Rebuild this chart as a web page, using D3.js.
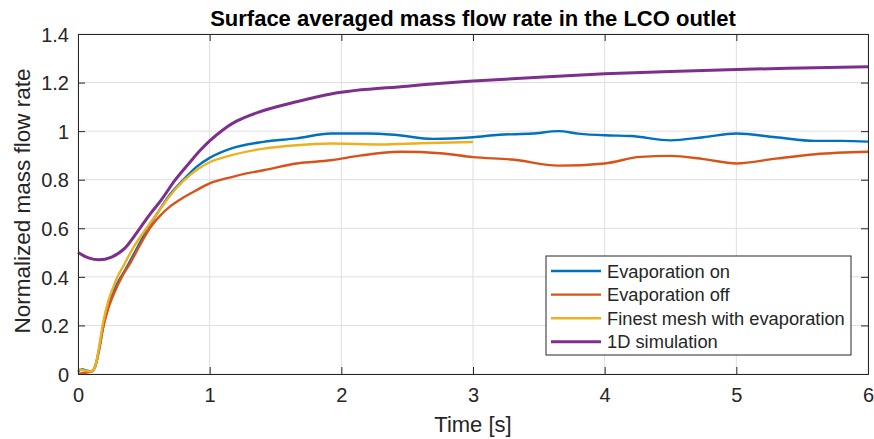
<!DOCTYPE html>
<html>
<head>
<meta charset="utf-8">
<script src="https://cdn.jsdelivr.net/npm/d3@7"></script>
<style>
  body { margin: 0; background: #fff; }
  text { font-family: "Liberation Sans", Arial, sans-serif; fill: #262626; }
</style>
</head>
<body>
<script>
// values
var xTicks = [0, 1, 2, 3, 4, 5, 6];
var yTicks = [0, 0.2, 0.4, 0.6, 0.8, 1, 1.2, 1.4];
var seriesNames = ["Evaporation on", "Evaporation off", "Finest mesh with evaporation", "1D simulation"];
var seriesColors = ["#0072BD", "#D95319", "#EDB120", "#7E2F8E"];

var tOn = [0, 0.03, 0.06, 0.1, 0.13, 0.16, 0.19, 0.23, 0.27, 0.31, 0.36, 0.43, 0.53, 0.6, 0.7, 0.8, 0.9, 1.0, 1.16, 1.41, 1.66, 1.92, 2.2, 2.4, 2.7, 3.0, 3.2, 3.45, 3.65, 3.8, 4.0, 4.2, 4.5, 4.75, 5.0, 5.3, 5.6, 5.8, 6.0];
var vOn = [0.01, 0.02, 0.015, 0.01, 0.03, 0.10, 0.19, 0.28, 0.34, 0.385, 0.43, 0.50, 0.60, 0.66, 0.74, 0.80, 0.853, 0.89, 0.928, 0.956, 0.97, 0.99, 0.99, 0.985, 0.968, 0.975, 0.985, 0.99, 1.0, 0.99, 0.983, 0.98, 0.962, 0.975, 0.99, 0.975, 0.96, 0.96, 0.957];

var tOff = [0, 0.05, 0.1, 0.13, 0.16, 0.19, 0.23, 0.28, 0.333, 0.4, 0.47, 0.545, 0.62, 0.7, 0.78, 0.9, 1.0, 1.16, 1.28, 1.41, 1.66, 1.92, 2.15, 2.45, 2.75, 3.0, 3.3, 3.65, 4.0, 4.27, 4.5, 4.75, 5.0, 5.3, 5.6, 6.0];
var vOff = [0.0, 0.005, 0.01, 0.03, 0.10, 0.19, 0.27, 0.34, 0.40, 0.46, 0.53, 0.60, 0.65, 0.69, 0.72, 0.757, 0.785, 0.81, 0.826, 0.839, 0.867, 0.88, 0.90, 0.915, 0.909, 0.893, 0.883, 0.858, 0.867, 0.894, 0.898, 0.885, 0.867, 0.887, 0.905, 0.915];

var tFine = [0, 0.05, 0.1, 0.13, 0.16, 0.19, 0.23, 0.27, 0.3, 0.35, 0.42, 0.52, 0.6, 0.7, 0.8, 0.9, 1.0, 1.16, 1.41, 1.66, 1.92, 2.3, 2.6, 3.0];
var vFine = [0.02, 0.015, 0.01, 0.03, 0.11, 0.21, 0.30, 0.36, 0.40, 0.45, 0.52, 0.60, 0.66, 0.735, 0.795, 0.84, 0.872, 0.90, 0.928, 0.942, 0.949, 0.945, 0.95, 0.955];

var t1D = [0, 0.08, 0.16, 0.25, 0.35, 0.47, 0.55, 0.63, 0.737, 0.85, 0.93, 1.0, 1.1, 1.2, 1.3, 1.41, 1.66, 1.92, 2.5, 3.0, 3.5, 4.0, 4.5, 5.0, 5.5, 6.0];
var v1D = [0.5, 0.478, 0.47, 0.48, 0.515, 0.60, 0.66, 0.715, 0.798, 0.872, 0.922, 0.96, 1.005, 1.04, 1.064, 1.085, 1.121, 1.153, 1.185, 1.206, 1.222, 1.236, 1.246, 1.254, 1.26, 1.265];

var svgWidth = 874, svgHeight = 439;
var margin = { top: 34, right: 6, bottom: 65, left: 78 };
var width = 868 - margin.left;
var height = 374 - margin.top;

var svg = d3.select("body").append("svg")
  .attr("width", svgWidth)
  .attr("height", svgHeight);

var chartGroup = svg.append("g")
  .attr("transform", `translate(${margin.left}, ${margin.top})`);

var x = d3.scaleLinear().domain([0, 6]).range([0, width]);
var y = d3.scaleLinear().domain([0, 1.4]).range([height, 0]);

// grid
chartGroup.append("g").selectAll("line").data(xTicks).enter().append("line")
  .attr("x1", d => x(d)).attr("x2", d => x(d))
  .attr("y1", 0).attr("y2", height)
  .attr("stroke", "#dfdfdf");
chartGroup.append("g").selectAll("line").data(yTicks).enter().append("line")
  .attr("y1", d => y(d)).attr("y2", d => y(d))
  .attr("x1", 0).attr("x2", width)
  .attr("stroke", "#dfdfdf");

// series
var series = [
  { t: tOn, v: vOn },
  { t: tOff, v: vOff },
  { t: tFine, v: vFine },
  { t: t1D, v: v1D }
];
var line = d3.line()
  .x(d => x(d[0]))
  .y(d => y(d[1]))
  .curve(d3.curveMonotoneX);

series.forEach(function(s, i) {
  var pts = s.t.map((t, j) => [t, s.v[j]]);
  chartGroup.append("path")
    .datum(pts)
    .attr("d", line)
    .attr("fill", "none")
    .attr("stroke", seriesColors[i])
    .attr("stroke-width", i == 3 ? 3 : 2.4)
    .attr("stroke-linejoin", "round");
});

// axes (box with inward ticks)
var bottomAxis = d3.axisBottom(x).tickValues(xTicks).tickSize(-7).tickPadding(14).tickFormat(d3.format("d"));
var leftAxis = d3.axisLeft(y).tickValues(yTicks).tickSize(-7).tickPadding(9).tickFormat(d => d3.format("")(d));
var topAxis = d3.axisTop(x).tickValues(xTicks).tickSize(-7).tickFormat("");
var rightAxis = d3.axisRight(y).tickValues(yTicks).tickSize(-7).tickFormat("");

var xAxis = chartGroup.append("g").attr("transform", `translate(0, ${height})`).call(bottomAxis);
var yAxis = chartGroup.append("g").call(leftAxis);
chartGroup.append("g").call(topAxis);
chartGroup.append("g").attr("transform", `translate(${width}, 0)`).call(rightAxis);

chartGroup.selectAll(".domain").attr("stroke", "#262626").attr("stroke-width", 1);
chartGroup.selectAll(".tick line").attr("stroke", "#262626");
chartGroup.selectAll(".tick text").style("font-size", "20px").attr("fill", "#262626")
  .style("font-family", "'Liberation Sans', Arial, sans-serif");
yAxis.selectAll(".tick text").attr("dy", "0.36em");

// legend
var legend = svg.append("g").attr("transform", "translate(546, 256)");
legend.append("rect")
  .attr("width", 305).attr("height", 99)
  .attr("fill", "#fff").attr("stroke", "#262626").attr("stroke-width", 1);
seriesNames.forEach(function(name, i) {
  var ly = 15 + i * 23.6;
  legend.append("line")
    .attr("x1", 5).attr("x2", 55).attr("y1", ly).attr("y2", ly)
    .attr("stroke", seriesColors[i]).attr("stroke-width", i == 3 ? 3 : 2.4);
  legend.append("text")
    .attr("x", 61).attr("y", ly).attr("dy", "0.36em")
    .style("font-size", "18.3px")
    .text(name);
});

// labels
svg.append("text")
  .attr("x", margin.left + width / 2).attr("y", 26)
  .attr("text-anchor", "middle")
  .style("font-size", "22px").style("font-weight", "bold")
  .style("fill", "#000")
  .text("Surface averaged mass flow rate in the LCO outlet");

svg.append("text")
  .attr("x", margin.left + width / 2).attr("y", 432)
  .attr("text-anchor", "middle")
  .style("font-size", "22px")
  .text("Time [s]");

svg.append("text")
  .attr("transform", "rotate(-90)")
  .attr("x", -201).attr("y", 30)
  .attr("text-anchor", "middle")
  .style("font-size", "22.5px")
  .text("Normalized mass flow rate");
</script>
</body>
</html>
